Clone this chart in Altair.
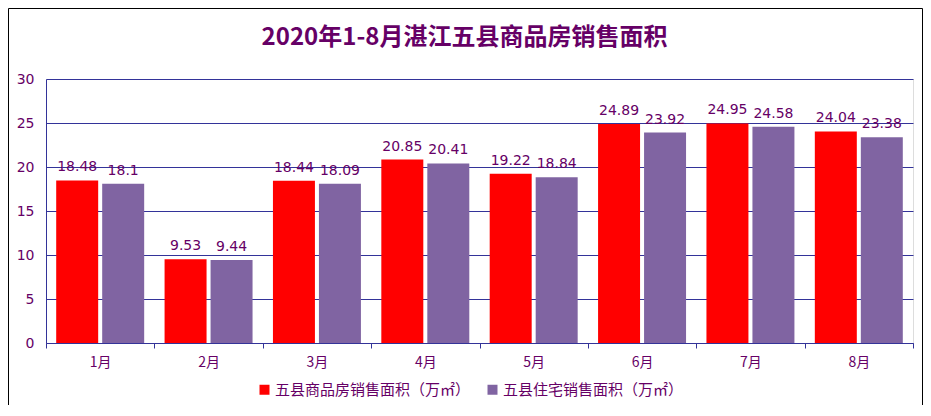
import altair as alt
import pandas as pd

months = ["1月", "2月", "3月", "4月", "5月", "6月", "7月", "8月"]
series = ["五县商品房销售面积（万㎡）", "五县住宅销售面积（万㎡）"]
commercial = [18.48, 9.53, 18.44, 20.85, 19.22, 24.89, 24.95, 24.04]
residential = [18.1, 9.44, 18.09, 20.41, 18.84, 23.92, 24.58, 23.38]
colors = ["#FF0000", "#8064A2"]
y_ticks = [0, 5, 10, 15, 20, 25, 30]
title_text = "2020年1-8月湛江五县商品房销售面积"

rows = []
for m, c, r in zip(months, commercial, residential):
    rows.append({"month": m, "series": series[0], "value": c, "label": str(c)})
    rows.append({"month": m, "series": series[1], "value": r, "label": str(r)})
df = pd.DataFrame(rows)

W, H = 867, 264
LABEL = "#660066"
GRID = "#333399"
CJK = "Noto Sans CJK SC"
NUM = "DejaVu Sans"

x = alt.X(
    "month:N", sort=months,
    scale=alt.Scale(paddingInner=0, paddingOuter=0),
    axis=alt.Axis(title=None, labelAngle=0, tickBand="extent", ticks=True, tickSize=5,
                  tickColor=GRID, domainColor=GRID, labelColor=LABEL, labelFont=CJK,
                  labelFontSize=14, labelPadding=7, grid=False),
)
xo = alt.XOffset("series:N", sort=series,
                 scale=alt.Scale(paddingInner=0.087, paddingOuter=0.2217))
y = alt.Y(
    "value:Q",
    scale=alt.Scale(domain=[0, 30], nice=False),
    axis=alt.Axis(title=None, values=y_ticks, grid=True, gridColor=GRID, gridWidth=1,
                  gridOpacity=1, ticks=False, domainColor=GRID, labelColor=LABEL,
                  labelFont=NUM, labelFontSize=14, labelPadding=12),
)

base = alt.Chart(df)
bars = base.mark_bar().encode(
    x=x, xOffset=xo, y=y,
    color=alt.Color(
        "series:N", sort=series,
        scale=alt.Scale(domain=series, range=colors),
        legend=alt.Legend(title=None, orient="none", legendX=211, legendY=303,
                          direction="horizontal", symbolType="square", symbolSize=100,
                          symbolStrokeWidth=0, labelFont=CJK, labelFontSize=15,
                          labelColor=LABEL, labelOffset=3, columnPadding=14,
                          labelLimit=400),
    ),
)
labels = base.mark_text(dy=-13, baseline="middle", fontSize=14, font=NUM, color=LABEL).encode(
    x=x, xOffset=xo, y=y, text="label:N"
)
one = pd.DataFrame({"t": [title_text]})
border = alt.Chart(one).mark_rect(
    fillOpacity=0, stroke="#000000", strokeWidth=1
).encode(x=alt.value(-37.5), x2=alt.value(876.5), y=alt.value(-70.5), y2=alt.value(328.5))
title = alt.Chart(one).mark_text(
    font=CJK, fontSize=24, fontWeight="bold", color=LABEL, align="center", baseline="middle"
).encode(x=alt.value(418.5), y=alt.value(-41), text="t:N")

chart = alt.layer(border, title, bars, labels).properties(
    width=W, height=H,
    autosize=alt.AutoSizeParams(type="none"),
    padding={"left": 38, "top": 71, "right": 10, "bottom": 62},
).configure_view(stroke=None).configure(background="white")

chart.save("out.html", embed_options={"renderer": "svg", "actions": False})
